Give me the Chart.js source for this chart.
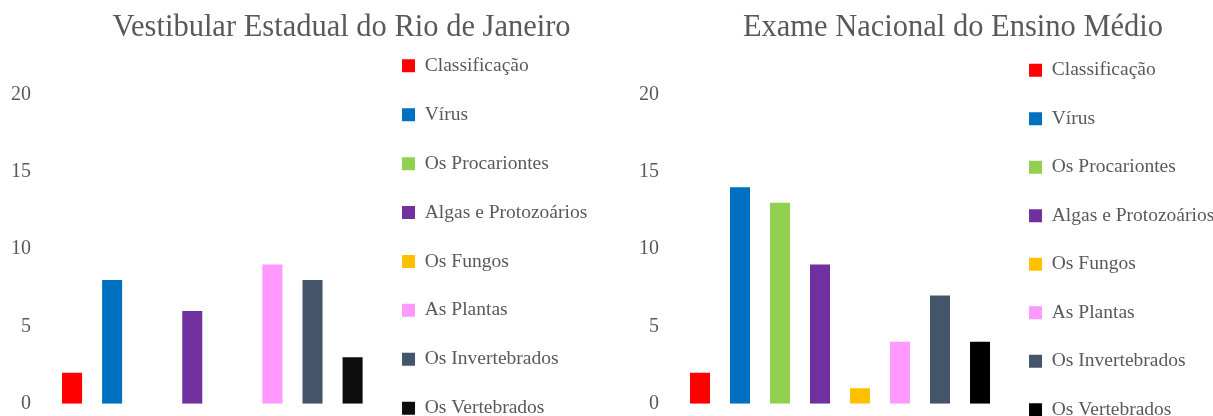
<!DOCTYPE html>
<html><head><meta charset="utf-8">
<script src="https://cdn.jsdelivr.net/npm/chart.js@4/dist/chart.umd.min.js"></script>
<style>
html,body{margin:0;padding:0;background:#fff;width:1213px;height:416px;overflow:hidden;position:relative;}
#c1{position:absolute;left:0;top:0;}
#c2{position:absolute;left:640px;top:0;}
</style></head><body>
<canvas id="c1" width="683" height="474"></canvas>
<canvas id="c2" width="626" height="480"></canvas>
<script>
const categories = ['Classificação','Vírus','Os Procariontes','Algas e Protozoários','Os Fungos','As Plantas','Os Invertebrados','Os Vertebrados'];
const uerjValues = [2, 8, 0, 6, 0, 9, 8, 3];
const enemValues = [2, 14, 13, 9, 1, 4, 7, 4];
const uerjColors = ['#FF0000','#0070C0','#92D050','#7030A0','#FFC000','#FF99FF','#44546A','#0D0D0D'];
const enemColors = ['#FF0000','#0070C0','#92D050','#7030A0','#FFC000','#FF99FF','#44546A','#000000'];
const titles = ['Vestibular Estadual do Rio de Janeiro', 'Exame Nacional do Ensino Médio'];
const yMin = 0, yMax = 20, yStep = 5;

const FONT = 'Liberation Serif';
const GRAY = '#595959';

function makeChart(id, title, values, colors, L) {
  return new Chart(document.getElementById(id), {
    type: 'bar',
    data: {
      labels: categories,
      datasets: [{ data: values, backgroundColor: colors, borderWidth: 0,
        barPercentage: 0.5, categoryPercentage: 1.0 }]
    },
    options: {
      responsive: false,
      animation: false,
      events: [],
      layout: { padding: 0 },
      scales: {
        x: {
          display: true,
          grid: { display: false, drawTicks: false },
          border: { display: false },
          ticks: { display: false },
          afterFit: (s) => { s.height = L.xAxisHeight; }
        },
        y: {
          min: yMin, max: yMax,
          grid: { display: false, drawTicks: false },
          border: { display: false },
          ticks: { stepSize: yStep, padding: 21, color: GRAY, font: { family: FONT, size: 20 } },
          afterFit: (s) => { s.width = L.yAxisWidth; }
        }
      },
      plugins: {
        tooltip: { enabled: false },
        title: {
          display: true, text: title, color: GRAY,
          font: { family: FONT, size: 30.5, weight: 'normal', lineHeight: 1.2 },
          padding: { top: 10, bottom: 47.9 }
        },
        subtitle: {
          display: true, text: '', position: 'right', fullSize: true,
          font: { size: 1, lineHeight: 1 },
          padding: { top: L.spacer - 1, bottom: 0 }
        },
        legend: {
          position: 'right', align: 'center', maxWidth: 400,
          labels: {
            boxWidth: 13, boxHeight: 13, padding: L.legendPad, color: GRAY,
            font: { family: FONT, size: 19.5 },
            generateLabels: () => categories.map((c, i) => ({
              text: c, fillStyle: colors[i], strokeStyle: colors[i], lineWidth: 0,
              hidden: false, index: i, datasetIndex: 0, fontColor: GRAY
            }))
          }
        }
      }
    }
  });
}

makeChart('c1', titles[0], uerjValues, uerjColors, { xAxisHeight: 70.3, yAxisWidth: 52, legendPad: 29.4, spacer: 85.75 });
makeChart('c2', titles[1], enemValues, enemColors, { xAxisHeight: 76.3, yAxisWidth: 40, legendPad: 29.0, spacer: 41.75 });
</script>
</body></html>
